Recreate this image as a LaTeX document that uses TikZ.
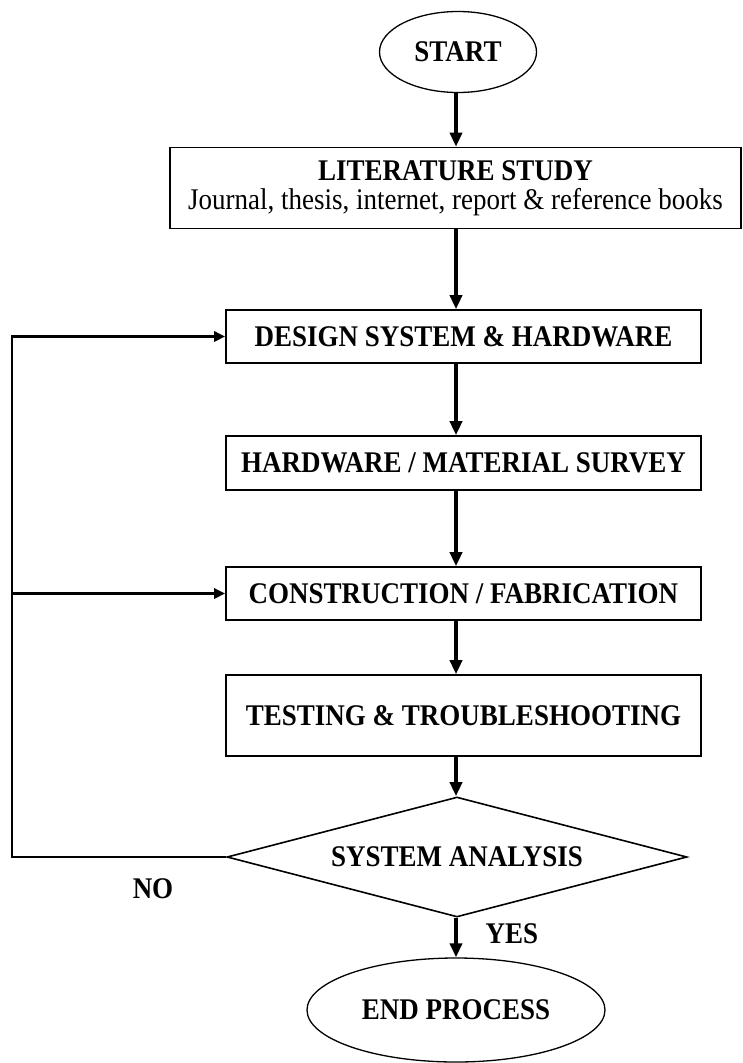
\documentclass[tikz,border=0pt]{standalone}
\usepackage{fontspec}
\setmainfont{Liberation Serif}
\newfontfamily\condfont[FakeStretch=0.9]{Liberation Serif}
\usetikzlibrary{shapes.geometric,arrows.meta}
\tikzset{txt/.style={font=\condfont\fontsize{30}{31}\selectfont\bfseries}}
\begin{document}
\begin{tikzpicture}[x=1pt,y=-1pt,
  box/.style={draw,line width=1.6pt,rectangle,inner sep=0pt,minimum width=475pt,txt,align=center},
  oval/.style={draw,line width=1.3pt,ellipse,inner sep=0pt,txt},
  lbl/.style={inner sep=0pt,txt},
  flow/.style={line width=3.5pt,-{Triangle[length=14pt,width=12pt]}},
  loopline/.style={line width=2.6pt}]
\useasboundingbox (0,0) rectangle (743,1063);
\fill[white] (0,0) rectangle (743,1063);
\coordinate (spine) at (456,0);
\coordinate (lx) at (12,0);

\node[oval,minimum width=157pt,minimum height=81pt] (start) at (458,52) {START};
\node[box,minimum width=571pt,minimum height=81pt] (lit) at (455.5,188)
  {LITERATURE STUDY\\[-2pt]{\mdseries Journal, thesis, internet, report \& reference books}};
\node[box,minimum height=53pt] (design) at (463.5,336.5) {DESIGN SYSTEM \& HARDWARE};
\node[box,minimum height=54pt] (hw) at (463.5,463) {HARDWARE / MATERIAL SURVEY};
\node[box,minimum height=53pt] (constr) at (463.5,593.5) {CONSTRUCTION / FABRICATION};
\node[box,minimum height=81pt] (test) at (463.5,715.5) {TESTING \& TROUBLESHOOTING};
\node[draw,line width=1.6pt,diamond,inner sep=0pt,aspect=3.83,minimum width=460pt,minimum height=120pt,txt] (dia) at (457,857) {SYSTEM ANALYSIS};
\node[oval,minimum width=298pt,minimum height=104pt] (end) at (456,1010) {END PROCESS};
\node[lbl] (no) at (153,889) {NO};
\node[lbl] (yes) at (512,934) {YES};

\draw[flow] (spine |- start.south) -- (spine |- lit.north);
\draw[flow] (spine |- lit.south) -- (spine |- design.north);
\draw[flow] (spine |- design.south) -- (spine |- hw.north);
\draw[flow] (spine |- hw.south) -- (spine |- constr.north);
\draw[flow] (spine |- constr.south) -- (spine |- test.north);
\draw[flow] (spine |- test.south) -- (spine |- dia.north);
\draw[flow] (spine |- dia.south) -- (spine |- end.north);

\draw[loopline,-{Triangle[length=11pt,width=10pt]}] (dia.west) -- (dia.west -| lx) -- (design.west -| lx) -- (design.west);
\draw[loopline,-{Triangle[length=11pt,width=10pt]}] (constr.west -| lx) -- (constr.west);
\end{tikzpicture}
\end{document}
